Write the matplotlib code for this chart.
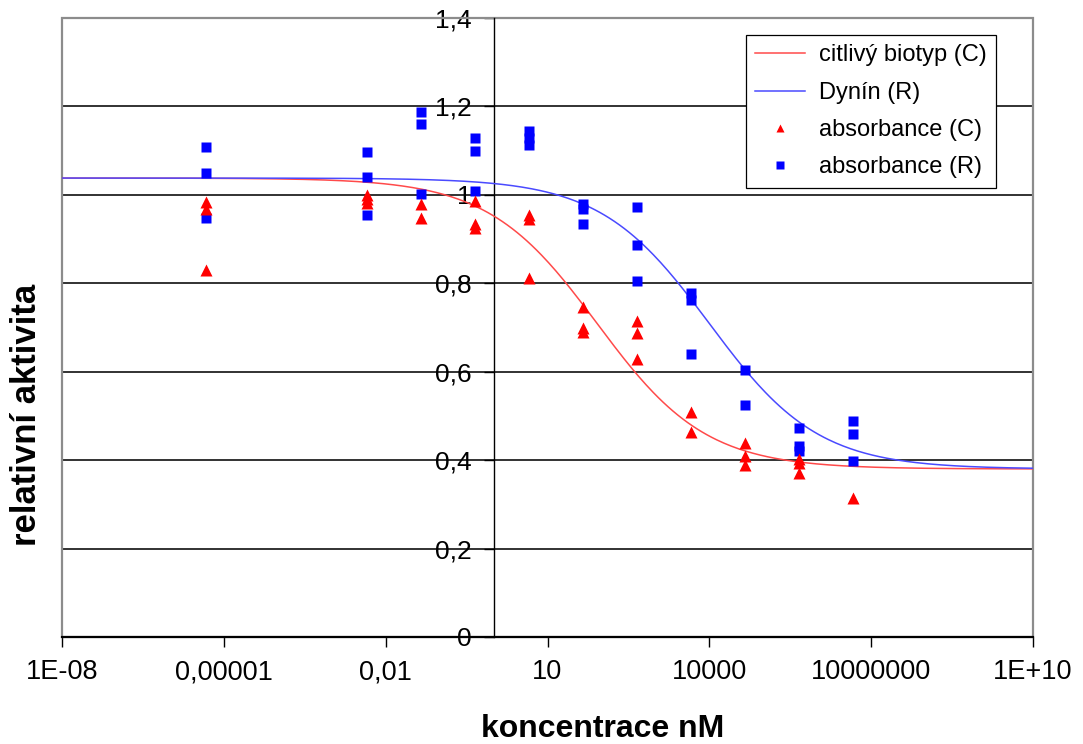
import numpy as np
import matplotlib; matplotlib.use("Agg")
import matplotlib.pyplot as plt
from matplotlib.lines import Line2D
from matplotlib.patches import Rectangle

plt.rcParams['font.family'] = ['Liberation Sans', 'DejaVu Sans']

# concentrations (nM) of the measured points
conc = [4.6e-6, 4.6e-3, 4.6e-2, 0.46, 4.6, 46, 460, 4600, 46000, 460000, 4.6e6]
# relative activity, sensitive biotype (C)
abs_c = [[0.983, 0.968, 0.830], [1.000, 0.990, 0.982], [0.979, 0.948],
         [0.985, 0.935, 0.925], [0.955, 0.945, 0.812], [0.747, 0.700, 0.690],
         [0.715, 0.687, 0.629], [0.510, 0.464], [0.438, 0.410, 0.388],
         [0.402, 0.394, 0.372], [0.315]]
# relative activity, Dynín (R)
abs_r = [[1.109, 1.049, 0.948], [1.098, 1.040, 0.955], [1.188, 1.160, 1.002],
         [1.128, 1.099, 1.009], [1.145, 1.128, 1.112], [0.980, 0.968, 0.933],
         [0.973, 0.886, 0.805], [0.778, 0.763, 0.639], [0.605, 0.525],
         [0.472, 0.432, 0.421], [0.489, 0.459, 0.398]]

# fitted dose-response curves (top, bottom, log10 EC50, hill slope)
fit_c = (1.038, 0.38, 1.92, 0.43)
fit_r = (1.038, 0.38, 4.00, 0.43)

xticks = [1e-8, 1e-5, 1e-2, 1e1, 1e4, 1e7, 1e10]
xticklabels = ["1E-08", "0,00001", "0,01", "10", "10000", "10000000", "1E+10"]
yticks = [0, 0.2, 0.4, 0.6, 0.8, 1.0, 1.2, 1.4]
yticklabels = ["0", "0,2", "0,4", "0,6", "0,8", "1", "1,2", "1,4"]

def logistic(x, p):
    top, bot, lec, h = p
    return bot + (top - bot) / (1 + 10 ** (h * (np.log10(x) - lec)))

fig = plt.figure(figsize=(10.83, 7.44), dpi=100)
ax = fig.add_axes([62/1083, 1-637/744, 971/1083, 619/744])

xs = np.logspace(-8, 10, 400)
ax.plot(xs, logistic(xs, fit_c), color='#ff4a4a', lw=1.1, zorder=3)
ax.plot(xs, logistic(xs, fit_r), color='#4a4aff', lw=1.1, zorder=3)

xc = [c for c, v in zip(conc, abs_c) for _ in v]
yc = [y for v in abs_c for y in v]
xr = [c for c, v in zip(conc, abs_r) for _ in v]
yr = [y for v in abs_r for y in v]
ax.plot(xr, yr, ls='none', marker='s', ms=7.3, color='#0000ff', mec='none', zorder=4)
ax.plot(xc, yc, ls='none', marker='^', ms=8, color='#ff0000', mec='none', zorder=5)

ax.set_xscale('log')
ax.set_xlim(1e-8, 1e10)
ax.set_ylim(0, 1.4)
ax.spines['left'].set_position(('data', 1))
ax.spines['left'].set_linewidth(1.0)
ax.spines['bottom'].set_linewidth(1.5)
ax.spines['top'].set_visible(False)
ax.spines['right'].set_visible(False)

ax.xaxis.set_minor_locator(matplotlib.ticker.NullLocator())
ax.set_xticks(xticks)
ax.set_xticklabels(xticklabels)
ax.set_yticks(yticks)
ax.set_yticklabels(yticklabels)
ax.tick_params(axis='x', direction='out', length=7, width=1, pad=9, labelsize=19.5)
ax.tick_params(axis='y', direction='out', length=7, width=1, pad=9, labelsize=19)

ax.yaxis.grid(True, color='#222222', lw=1.3)
ax.set_axisbelow(True)
ax.add_patch(Rectangle((0, 0), 1, 1, transform=ax.transAxes, fill=False,
                       edgecolor='#8c8c8c', lw=1.6, clip_on=False, zorder=1))
ax.plot([0, 1], [0, 0], transform=ax.transAxes, color='black', lw=1.5, clip_on=False, zorder=2)

handles = [Line2D([], [], color='#ff4a4a', lw=1.1),
           Line2D([], [], color='#4a4aff', lw=1.1),
           Line2D([], [], ls='none', marker='^', ms=6, color='#ff0000', mec='none'),
           Line2D([], [], ls='none', marker='s', ms=5.5, color='#0000ff', mec='none')]
labels = ["citlivý biotyp (C)", "Dynín (R)", "absorbance (C)", "absorbance (R)"]
leg = ax.legend(handles, labels, loc='upper left', bbox_to_anchor=(746/1083, 1-35/744),
                bbox_transform=fig.transFigure, borderaxespad=0, fontsize=17,
                fancybox=False, framealpha=1, edgecolor='black', handlelength=2.1,
                labelspacing=0.65, borderpad=0.4, handletextpad=0.6)
leg.get_frame().set_linewidth(0.9)
leg.set_zorder(10)

fig.text(603/1083, 1-737/744, "koncentrace nM", fontsize=23, fontweight='bold',
         ha='center', va='baseline')
fig.text(27/1083, 1-415/744, "relativní aktivita", fontsize=25, fontweight='bold',
         rotation=90, ha='center', va='center')

fig.savefig("out.png", dpi=100, facecolor='white')
